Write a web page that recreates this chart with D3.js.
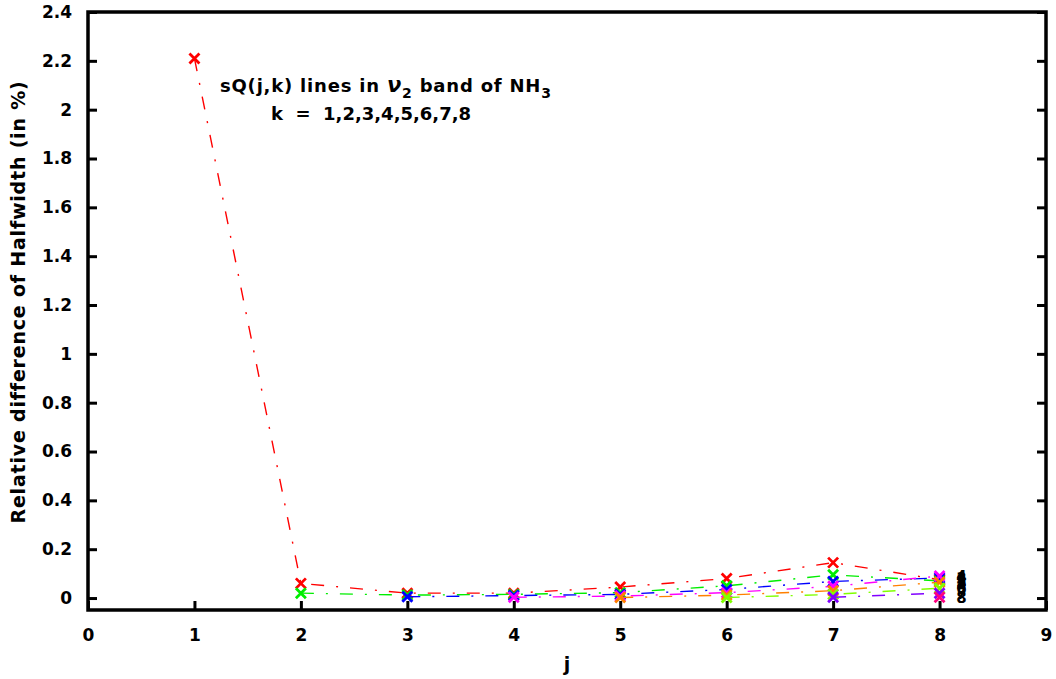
<!DOCTYPE html>
<html>
<head>
<meta charset="utf-8">
<script src="https://cdn.jsdelivr.net/npm/d3@7"></script>
<style>
  html, body { margin: 0; padding: 0; background: #fff; }
  svg { display: block; font-family: "DejaVu Sans", sans-serif; }
</style>
</head>
<body>
<svg id="chart" width="1056" height="679"></svg>
<script>
// Relative halfwidth difference (%) of sQ(j,k) lines, one series per k
const jValues = [1, 2, 3, 4, 5, 6, 7, 8];
const kLabels = ["1", "2", "3", "4", "5", "6", "7", "8"];
const k1 = [2.21, 0.06, 0.02, 0.02, 0.045, 0.08, 0.145, 0.075];
const k2 = [0.02, 0.012, 0.015, 0.022, 0.05, 0.095, 0.07];
const k3 = [0.005, 0.01, 0.015, 0.035, 0.068, 0.082];
const k4 = [0.003, 0.008, 0.022, 0.048, 0.09];
const k5 = [0.002, 0.012, 0.03, 0.065];
const k6 = [0.002, 0.015, 0.04];
const k7 = [0.003, 0.02];
const k8 = [0.003];
const seriesValues = [k1, k2, k3, k4, k5, k6, k7, k8];
const seriesColors = ["#ff0000", "#00ee00", "#0000ff", "#ff00ff", "#ff8000", "#80ff00", "#8000ff", "#ff0080"];
const xTicks = [0, 1, 2, 3, 4, 5, 6, 7, 8, 9];
const yTicks = [0, 0.2, 0.4, 0.6, 0.8, 1, 1.2, 1.4, 1.6, 1.8, 2, 2.2, 2.4];

const svg = d3.select("#chart");
const plotL = 88, plotR = 1046, plotT = 12, plotB = 610;

const x = d3.scaleLinear().domain([0, 9]).range([plotL, plotR]);
const y = d3.scaleLinear().domain([-0.049, 2.4]).range([plotB, plotT]);

const tickLen = 9;
const fontTick = "bold 17px 'DejaVu Sans', sans-serif";

// Y axis (left) with inward ticks, mirrored on the right
const yAxisL = d3.axisLeft(y).tickValues(yTicks).tickSizeInner(-tickLen).tickSizeOuter(0)
  .tickPadding(16).tickFormat(d3.format("~g"));
const gyl = svg.append("g").attr("transform", `translate(${plotL},0)`).call(yAxisL);
const yAxisR = d3.axisRight(y).tickValues(yTicks).tickSizeInner(-tickLen).tickSizeOuter(0).tickFormat("");
const gyr = svg.append("g").attr("transform", `translate(${plotR},0)`).call(yAxisR);

// X axis (bottom) with inward ticks
const xAxisB = d3.axisBottom(x).tickValues(xTicks).tickSizeInner(-tickLen).tickSizeOuter(0)
  .tickPadding(19).tickFormat(d3.format("d"));
const gxb = svg.append("g").attr("transform", `translate(0,${plotB})`).call(xAxisB);

[gyl, gyr, gxb].forEach(g => {
  g.select(".domain").remove();
  g.selectAll(".tick line").attr("stroke", "#000").attr("stroke-width", 3);
  g.selectAll(".tick text").style("font", fontTick).attr("fill", "#000");
});

// Plot frame
svg.append("rect")
  .attr("x", plotL).attr("y", plotT)
  .attr("width", plotR - plotL).attr("height", plotB - plotT)
  .attr("fill", "none").attr("stroke", "#000").attr("stroke-width", 3.5);

// Series lines and cross markers
const line = d3.line().x(d => x(d.j)).y(d => y(d.v));
seriesValues.forEach((vals, i) => {
  const pts = vals.map((v, n) => ({ j: jValues[i + n], v }));
  const color = seriesColors[i];
  svg.append("path")
    .datum(pts)
    .attr("d", line)
    .attr("fill", "none")
    .attr("stroke", color)
    .attr("stroke-width", 1.4)
    .attr("stroke-dasharray", "13,12,2,12");
  const s = 5;
  svg.append("g").selectAll("path")
    .data(pts).join("path")
    .attr("d", d => {
      const cx = x(d.j), cy = y(d.v);
      return `M${cx - s},${cy - s}L${cx + s},${cy + s}M${cx - s},${cy + s}L${cx + s},${cy - s}`;
    })
    .attr("stroke", color)
    .attr("stroke-width", 2.8)
    .attr("fill", "none");
});

// Series labels at the end of each curve
svg.append("g").selectAll("text")
  .data(seriesValues.map((vals, i) => ({ label: kLabels[i], v: vals[vals.length - 1] })))
  .join("text")
  .attr("x", x(8) + 22)
  .attr("y", d => y(d.v) + 6)
  .attr("text-anchor", "middle")
  .style("font", "bold 15px 'DejaVu Sans', sans-serif")
  .attr("fill", "#000")
  .text(d => d.label);

// Annotation
const ann = svg.append("text")
  .attr("x", 220).attr("y", 92)
  .style("font", "bold 18px 'DejaVu Sans', sans-serif")
  .style("letter-spacing", "0.8px")
  .attr("fill", "#000");
ann.append("tspan").text("sQ(j,k) lines in ");
ann.append("tspan").style("font-style", "italic").style("font-size", "21px").text("\u03bd");
ann.append("tspan").attr("dy", 6).style("font-size", "14px").text("2");
ann.append("tspan").attr("dy", -6).text(" band of NH");
ann.append("tspan").attr("dy", 6).style("font-size", "14px").text("3");

svg.append("text")
  .attr("x", 371).attr("y", 120)
  .attr("text-anchor", "middle")
  .style("font", "bold 18px 'DejaVu Sans', sans-serif")
  .style("white-space", "pre")
  .attr("fill", "#000")
  .text("k  =  1,2,3,4,5,6,7,8");

// Axis titles
svg.append("text")
  .attr("transform", `translate(25,${302}) rotate(-90)`)
  .attr("text-anchor", "middle")
  .style("font", "bold 19px 'DejaVu Sans', sans-serif")
  .style("letter-spacing", "0.8px")
  .attr("fill", "#000")
  .text("Relative difference of Halfwidth (in %)");

svg.append("text")
  .attr("x", x(4.5)).attr("y", 671)
  .attr("text-anchor", "middle")
  .style("font", "bold 19px 'DejaVu Sans', sans-serif")
  .attr("fill", "#000")
  .text("j");
</script>
</body>
</html>
